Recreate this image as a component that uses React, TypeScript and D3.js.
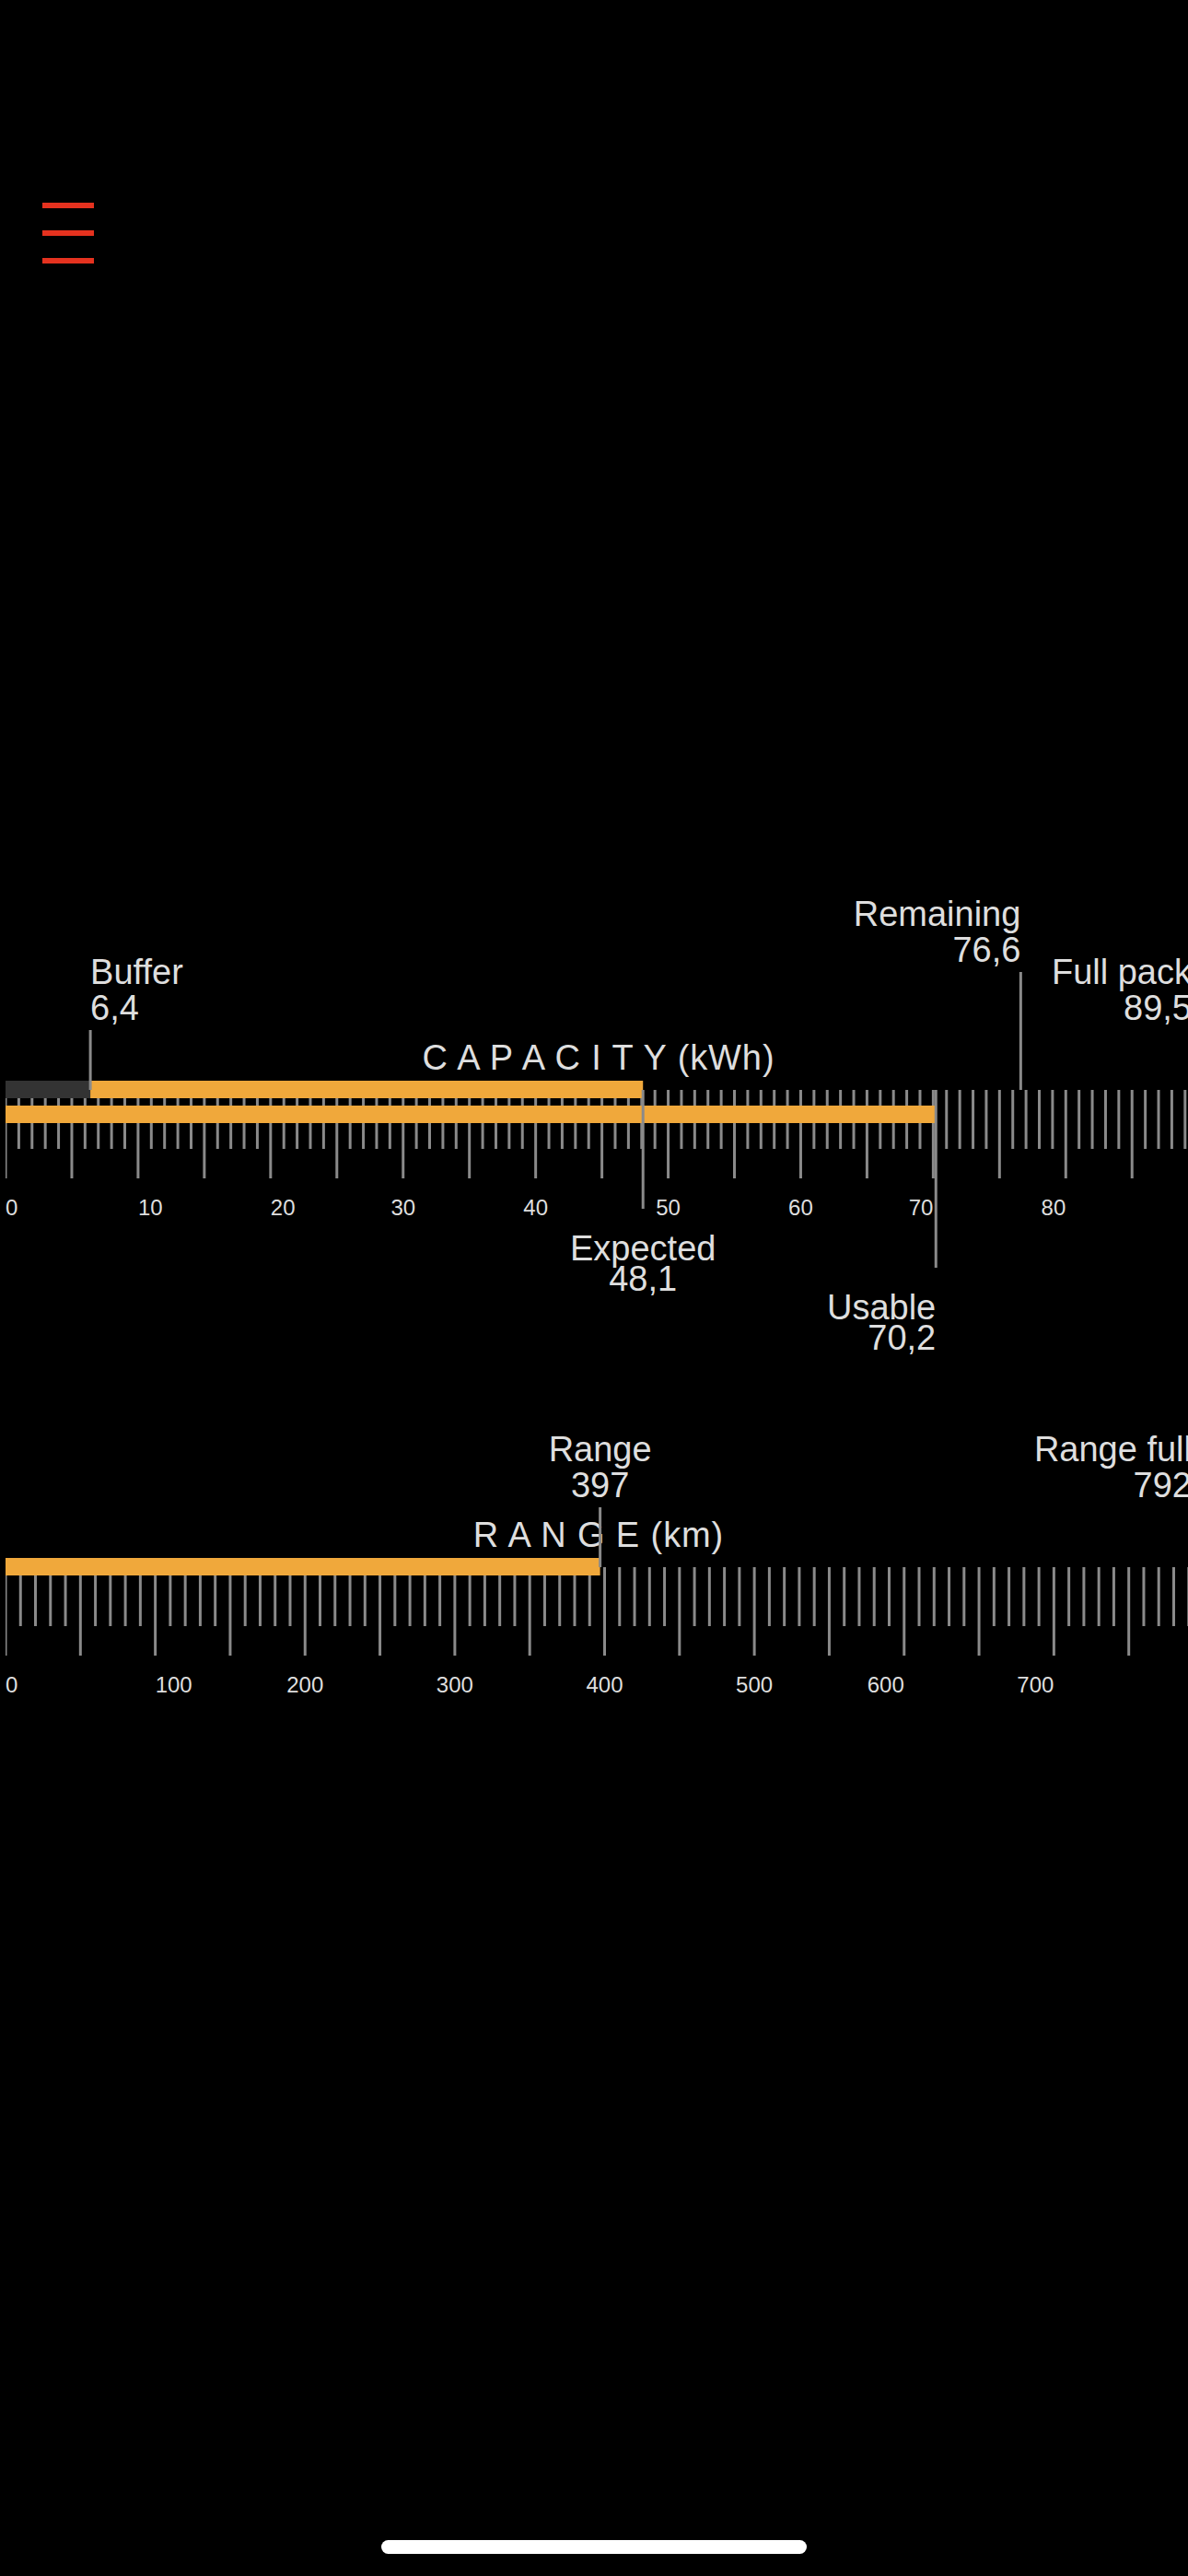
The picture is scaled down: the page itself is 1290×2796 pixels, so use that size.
import { useEffect } from "react";
import * as d3 from "d3";

// capacity gauge (kWh)
const capacityNames = ["Buffer", "Expected", "Usable", "Remaining", "Full pack"];
const capacityValues = [6.4, 48.1, 70.2, 76.6, 89.5];
const capacitySides = ["above", "below", "below", "above", "above"];
const capacityTickLabels = [0, 10, 20, 30, 40, 50, 60, 70, 80];

// range gauge (km)
const rangeNames = ["Range", "Range full"];
const rangeValues = [397, 792];
const rangeSides = ["above", "above"];
const rangeTickLabels = [0, 100, 200, 300, 400, 500, 600, 700];

const W = 1290;
const H = 2796;
const X0 = 6;
const X1 = 1294;
const ORANGE = "#f0a83b";
const TICK = "#8a8a8a";
const TEXT = "#dedede";
const FONT = "'Liberation Sans', Arial, Helvetica, sans-serif";

// label stagger (0 = close to the bar, 1 = lifted/lowered one step)
const capacityTiers = [0, 0, 1, 1, 0];
const rangeTiers = [0, 0];

const fmt = (v: number) => (Number.isInteger(v) ? String(v) : v.toFixed(1).replace(".", ","));
const anchorFor = (f: number) => (f < 0.25 ? "start" : f > 0.75 ? "end" : "middle");

interface Seg {
  from: number;
  to: number;
  color: string;
}

interface GaugeProps {
  id: string;
  title: string;
  unit: string;
  names: string[];
  values: number[];
  sides: string[];
  tiers: number[];
  tickLabels: number[];
  minorStep: number;
  rows: Seg[][];
  barTop: number;
}

function Gauge({ id, title, unit, names, values, sides, tiers, tickLabels, minorStep, rows, barTop }: GaugeProps) {
  const max = d3.max(values) ?? 1;
  const x = d3.scaleLinear().domain([0, max]).range([X0, X1]);

  const barH = 19;
  const rowGap = 27;
  const tickTop = barTop + 10;
  const minorEnd = tickTop + 64;
  const majorEnd = tickTop + 96;
  const labelBase = majorEnd + 40;
  const belowEnd = tickTop + 129;
  const labelSize = 38;

  const ticks = d3.range(0, max, minorStep);

  return (
    <g>
      <defs>
        <clipPath id={`clip-${id}`}>
          <rect x={X0} y={0} width={W - X0} height={H} />
        </clipPath>
      </defs>

      <text
        x={(X0 + X1) / 2}
        y={barTop - 12}
        textAnchor="middle"
        fill={TEXT}
        fontSize={38}
        letterSpacing={0.9}
      >
        {title.split("").join(" ") + " " + unit}
      </text>

      <g clipPath={`url(#clip-${id})`}>
        {ticks.map((t) => {
          const major = Math.round(t / minorStep) % 5 === 0;
          return (
            <line
              key={t}
              x1={x(t)}
              x2={x(t)}
              y1={tickTop}
              y2={major ? majorEnd : minorEnd}
              stroke={TICK}
              strokeWidth={3}
            />
          );
        })}
        {rows.map((segs, r) =>
          segs.map((s, i) => (
            <rect
              key={`${r}-${i}`}
              x={x(s.from)}
              y={barTop + r * rowGap}
              width={x(s.to) - x(s.from)}
              height={barH}
              fill={s.color}
            />
          ))
        )}
      </g>

      {tickLabels.map((t) => (
        <text
          key={t}
          x={x(t)}
          y={labelBase}
          textAnchor={anchorFor(t / max)}
          fill={TEXT}
          fontSize={24}
        >
          {t}
        </text>
      ))}

      {values.map((v, i) => {
        const px = x(v);
        const anchor = anchorFor(v / max);
        if (sides[i] === "above") {
          const top = tickTop - 65 - tiers[i] * 63;
          return (
            <g key={names[i]}>
              <line x1={px} x2={px} y1={top} y2={tickTop} stroke={TICK} strokeWidth={3} />
              <text x={px} y={top - 50} textAnchor={anchor} fill={TEXT} fontSize={labelSize}>
                {names[i]}
              </text>
              <text x={px} y={top - 11} textAnchor={anchor} fill={TEXT} fontSize={labelSize}>
                {fmt(v)}
              </text>
            </g>
          );
        }
        const bottom = belowEnd + tiers[i] * 64;
        return (
          <g key={names[i]}>
            <line x1={px} x2={px} y1={tickTop} y2={bottom} stroke={TICK} strokeWidth={3} />
            <text x={px} y={bottom + 56} textAnchor={anchor} fill={TEXT} fontSize={labelSize}>
              {names[i]}
            </text>
            <text x={px} y={bottom + 89} textAnchor={anchor} fill={TEXT} fontSize={labelSize}>
              {fmt(v)}
            </text>
          </g>
        );
      })}
    </g>
  );
}

export default function App() {
  useEffect(() => {
    document.body.style.margin = "0";
    document.body.style.background = "#000";
  }, []);

  const [buffer, expected, usable] = capacityValues;
  const [range] = rangeValues;

  const capacityRows: Seg[][] = [
    [
      { from: 0, to: buffer, color: "#333333" },
      { from: buffer, to: expected, color: ORANGE },
    ],
    [{ from: 0, to: usable, color: ORANGE }],
  ];
  const rangeRows: Seg[][] = [[{ from: 0, to: range, color: ORANGE }]];

  return (
    <div style={{ position: "absolute", left: 0, top: 0, width: W, height: H, background: "#000", overflow: "hidden" }}>
      <svg width={W} height={H} style={{ display: "block", fontFamily: FONT }}>
        <rect width={W} height={H} fill="#000" />

        {/* menu icon */}
        {[223, 253, 283].map((y) => (
          <line key={y} x1={46} x2={102} y1={y} y2={y} stroke="#e5321f" strokeWidth={6} />
        ))}

        <Gauge
          id="capacity"
          title="CAPACITY"
          unit="(kWh)"
          names={capacityNames}
          values={capacityValues}
          sides={capacitySides}
          tiers={capacityTiers}
          tickLabels={capacityTickLabels}
          minorStep={1}
          rows={capacityRows}
          barTop={1173}
        />

        <Gauge
          id="range"
          title="RANGE"
          unit="(km)"
          names={rangeNames}
          values={rangeValues}
          sides={rangeSides}
          tiers={rangeTiers}
          tickLabels={rangeTickLabels}
          minorStep={10}
          rows={rangeRows}
          barTop={1691}
        />

        {/* home indicator */}
        <rect x={414} y={2757} width={462} height={15} rx={7.5} fill="#fff" />
      </svg>
    </div>
  );
}
